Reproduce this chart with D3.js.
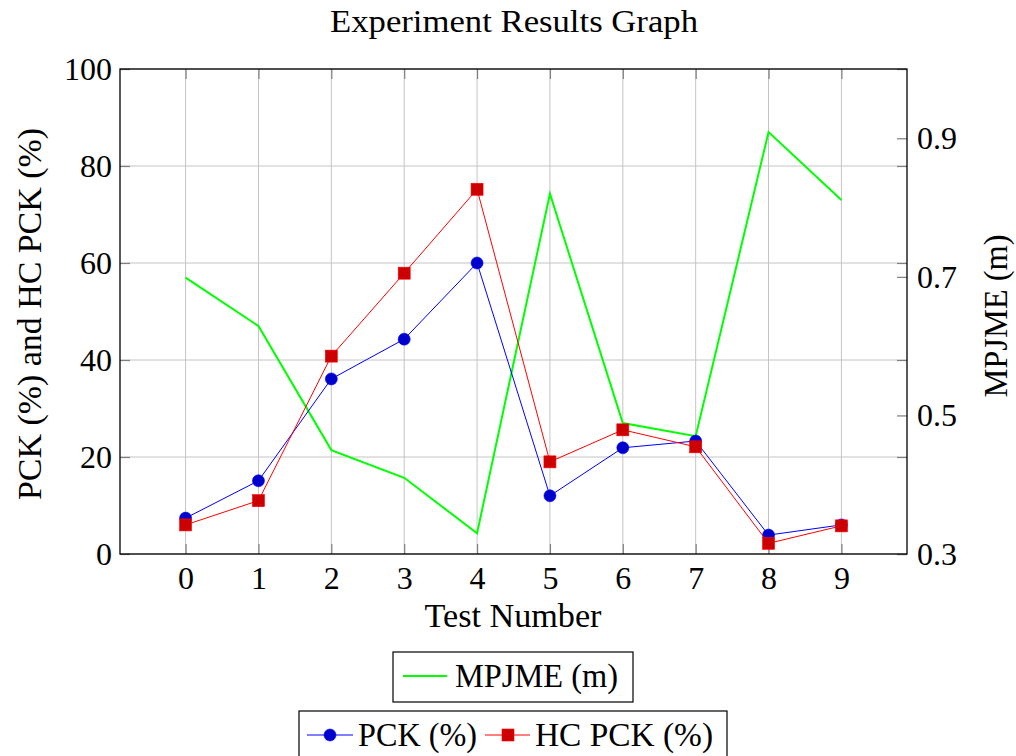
<!DOCTYPE html>
<html>
<head>
<meta charset="utf-8">
<script src="https://cdn.jsdelivr.net/npm/d3@7"></script>
<style>
  body { margin: 0; background: #fff; }
  svg text { font-family: "Liberation Serif", "DejaVu Serif", serif; fill: #000; }
</style>
</head>
<body>
<div id="chart"></div>
<script>
// data
var tests = [0, 1, 2, 3, 4, 5, 6, 7, 8, 9];
var pck = [7.4, 15.1, 36.1, 44.3, 60.0, 12.0, 21.9, 23.3, 3.9, 6.0];
var hcPck = [6.0, 11.0, 40.8, 57.9, 75.2, 19.0, 25.6, 22.1, 2.2, 5.8];
var mpjme = [0.699, 0.629, 0.450, 0.410, 0.330, 0.820, 0.489, 0.470, 0.909, 0.811];
var leftTicks = [0, 20, 40, 60, 80, 100];
var rightTicks = [0.3, 0.5, 0.7, 0.9];

var width = 1016, height = 756;
var plotL = 120, plotR = 907, plotT = 69, plotB = 554;

var svg = d3.select("#chart").append("svg")
    .attr("width", width)
    .attr("height", height);

var x = d3.scaleLinear().domain([-0.9, 9.9]).range([plotL, plotR]);
var yL = d3.scaleLinear().domain([0, 100]).range([plotB, plotT]);
var yR = d3.scaleLinear().domain([0.3, 1.0]).range([plotB, plotT]);

// grid
var grid = svg.append("g").attr("stroke", "#c4c4c4").attr("stroke-width", 1);
tests.forEach(function (t) {
    grid.append("line").attr("x1", x(t)).attr("x2", x(t)).attr("y1", plotT).attr("y2", plotB);
});
leftTicks.forEach(function (v) {
    grid.append("line").attr("x1", plotL).attr("x2", plotR).attr("y1", yL(v)).attr("y2", yL(v));
});

// axes (ticks inside, mirrored)
var tickLen = 10;
function styleAxis(g) {
    g.select(".domain").remove();
    g.selectAll(".tick line").attr("stroke", "#7f7f7f").attr("stroke-width", 1.2);
    g.selectAll(".tick text").attr("font-size", 32).attr("fill", "#000");
}
svg.append("g").attr("transform", "translate(0," + plotB + ")")
    .call(d3.axisBottom(x).tickValues(tests).tickFormat(d3.format("d"))
        .tickSizeInner(-tickLen))
    .call(styleAxis)
    .call(function (g) { g.selectAll(".tick text").attr("y", 12).attr("dy", "0.72em"); });
svg.append("g").attr("transform", "translate(0," + plotT + ")")
    .call(d3.axisTop(x).tickValues(tests).tickFormat("").tickSizeInner(-tickLen))
    .call(styleAxis);
svg.append("g").attr("transform", "translate(" + plotL + ",0)")
    .call(d3.axisLeft(yL).tickValues(leftTicks).tickFormat(d3.format("d"))
        .tickSizeInner(-tickLen))
    .call(styleAxis)
    .call(function (g) { g.selectAll(".tick text").attr("x", -8); });
svg.append("g").attr("transform", "translate(" + plotR + ",0)")
    .call(d3.axisRight(yL).tickValues(leftTicks).tickFormat("").tickSizeInner(-tickLen))
    .call(styleAxis);
svg.append("g").attr("transform", "translate(" + plotR + ",0)")
    .call(d3.axisRight(yR).tickValues(rightTicks).tickFormat(d3.format(".1f"))
        .tickSizeInner(-tickLen))
    .call(styleAxis)
    .call(function (g) { g.selectAll(".tick text").attr("x", 10); });

// frame
svg.append("rect")
    .attr("x", plotL).attr("y", plotT)
    .attr("width", plotR - plotL).attr("height", plotB - plotT)
    .attr("fill", "none").attr("stroke", "#000").attr("stroke-width", 1.3);

// lines
var lineL = d3.line().x(function (d, i) { return x(tests[i]); }).y(function (d) { return yL(d); });
var lineR = d3.line().x(function (d, i) { return x(tests[i]); }).y(function (d) { return yR(d); });

svg.append("path").datum(mpjme).attr("d", lineR)
    .attr("fill", "none").attr("stroke", "#00ff00").attr("stroke-width", 2);

svg.append("path").datum(pck).attr("d", lineL)
    .attr("fill", "none").attr("stroke", "#0000ff").attr("stroke-width", 1);
svg.selectAll(".pck").data(pck).enter().append("circle")
    .attr("class", "pck")
    .attr("cx", function (d, i) { return x(tests[i]); })
    .attr("cy", function (d) { return yL(d); })
    .attr("r", 6)
    .attr("fill", "#0000cc").attr("stroke", "#0000ff").attr("stroke-width", 0.6);

svg.append("path").datum(hcPck).attr("d", lineL)
    .attr("fill", "none").attr("stroke", "#ff0000").attr("stroke-width", 1);
svg.selectAll(".hc").data(hcPck).enter().append("rect")
    .attr("class", "hc")
    .attr("x", function (d, i) { return x(tests[i]) - 6; })
    .attr("y", function (d) { return yL(d) - 6; })
    .attr("width", 12).attr("height", 12)
    .attr("fill", "#cc0000").attr("stroke", "#ff0000").attr("stroke-width", 0.6);

// titles and labels
svg.append("text").attr("x", 514).attr("y", 32)
    .attr("text-anchor", "middle").attr("font-size", 32)
    .attr("textLength", 368).attr("lengthAdjust", "spacingAndGlyphs")
    .text("Experiment Results Graph");
svg.append("text").attr("x", 513).attr("y", 627)
    .attr("text-anchor", "middle").attr("font-size", 33)
    .attr("textLength", 177).attr("lengthAdjust", "spacingAndGlyphs")
    .text("Test Number");
svg.append("text")
    .attr("transform", "translate(41,314) rotate(-90)")
    .attr("text-anchor", "middle").attr("font-size", 34)
    .attr("textLength", 372).attr("lengthAdjust", "spacingAndGlyphs")
    .text("PCK (%) and HC PCK (%)");
svg.append("text")
    .attr("transform", "translate(1007,316) rotate(-90)")
    .attr("text-anchor", "middle").attr("font-size", 33)
    .attr("textLength", 163).attr("lengthAdjust", "spacingAndGlyphs")
    .text("MPJME (m)");

// legend 1
var lg1 = svg.append("g");
lg1.append("rect").attr("x", 393).attr("y", 652).attr("width", 240).attr("height", 50)
    .attr("fill", "#fff").attr("stroke", "#000").attr("stroke-width", 1.2);
lg1.append("line").attr("x1", 403).attr("x2", 447).attr("y1", 676).attr("y2", 676)
    .attr("stroke", "#00ff00").attr("stroke-width", 2);
lg1.append("text").attr("x", 455).attr("y", 687).attr("font-size", 33)
    .attr("textLength", 163).attr("lengthAdjust", "spacingAndGlyphs")
    .text("MPJME (m)");

// legend 2
var lg2 = svg.append("g");
lg2.append("rect").attr("x", 299).attr("y", 711).attr("width", 428).attr("height", 60)
    .attr("fill", "#fff").attr("stroke", "#000").attr("stroke-width", 1.2);
lg2.append("line").attr("x1", 307).attr("x2", 353).attr("y1", 735).attr("y2", 735)
    .attr("stroke", "#0000ff").attr("stroke-width", 1);
lg2.append("circle").attr("cx", 330).attr("cy", 735).attr("r", 6)
    .attr("fill", "#0000cc").attr("stroke", "#0000ff").attr("stroke-width", 0.6);
lg2.append("text").attr("x", 358).attr("y", 746).attr("font-size", 33)
    .attr("textLength", 119).attr("lengthAdjust", "spacingAndGlyphs")
    .text("PCK (%)");
lg2.append("line").attr("x1", 485).attr("x2", 530).attr("y1", 735).attr("y2", 735)
    .attr("stroke", "#ff0000").attr("stroke-width", 1);
lg2.append("rect").attr("x", 502).attr("y", 729).attr("width", 12).attr("height", 12)
    .attr("fill", "#cc0000").attr("stroke", "#ff0000").attr("stroke-width", 0.6);
lg2.append("text").attr("x", 535).attr("y", 746).attr("font-size", 33)
    .attr("textLength", 178).attr("lengthAdjust", "spacingAndGlyphs")
    .text("HC PCK (%)");
</script>
</body>
</html>
